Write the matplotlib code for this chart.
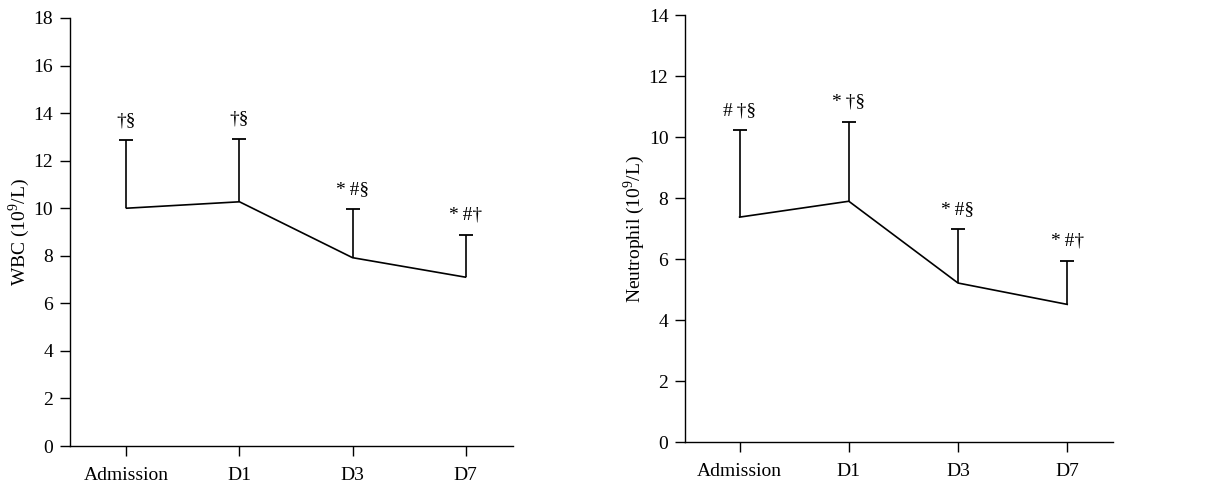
#!/usr/bin/env python3
"""
WBC and neutrophil counts over time (mean with upper SD bar).
"""

import matplotlib
matplotlib.use("Agg")
import matplotlib.pyplot as plt

plt.rcParams['font.family'] = ['Liberation Serif', 'DejaVu Serif']
plt.rcParams['mathtext.fontset'] = 'custom'
plt.rcParams['mathtext.rm'] = 'Liberation Serif'

days = ['Admission', 'D1', 'D3', 'D7']

# WBC (10^9/L)
wbc_mean = [10.0, 10.27, 7.92, 7.1]
wbc_sd = [2.85, 2.65, 2.05, 1.79]
wbc_marks = ['†§', '†§', '*\u2009#§', '*\u2009#†']

# Neutrophil (10^9/L)
neu_mean = [7.38, 7.9, 5.22, 4.52]
neu_sd = [2.85, 2.6, 1.76, 1.42]
neu_marks = ['#\u2009†§', '*\u2009†§', '*\u2009#§', '*\u2009#†']


def draw_panel(ax, mean, sd, marks, ymax, ylabel):
    x = list(range(len(days)))
    top = [m + s for m, s in zip(mean, sd)]
    ax.plot(x, mean, color='black', lw=1.2)
    # upper half of the SD bar only, with a cap at the top
    ax.vlines(x, mean, top, color='black', lw=1.2)
    ax.plot(x, top, ls='none', marker='_', markersize=10,
            markeredgewidth=1.3, color='black')
    for xi, t, lab in zip(x, top, marks):
        ax.annotate(lab, (xi, t), xytext=(0, 8), textcoords='offset points',
                    ha='center', va='bottom', fontsize=14)
    ax.set_xlim(-0.5, 3.42)
    ax.set_ylim(0, ymax)
    ax.set_yticks(range(0, ymax + 1, 2))
    ax.set_xticks(x)
    ax.set_xticklabels(days)
    ax.set_ylabel(ylabel, fontsize=14, labelpad=1)
    ax.spines['top'].set_visible(False)
    ax.spines['right'].set_visible(False)
    for sp in ('left', 'bottom'):
        ax.spines[sp].set_linewidth(1.0)
    ax.tick_params(direction='out', length=7, width=1.0, labelsize=14)
    ax.tick_params(axis='x', pad=8)
    ax.tick_params(axis='y', pad=5)


fig = plt.figure(figsize=(12.15, 4.86), dpi=100)
ax1 = fig.add_axes([0.0576, 0.0823, 0.3646, 0.8807])
ax2 = fig.add_axes([0.5638, 0.0899, 0.3523, 0.879])

draw_panel(ax1, wbc_mean, wbc_sd, wbc_marks, 18, 'WBC (10$^9$/L)')
draw_panel(ax2, neu_mean, neu_sd, neu_marks, 14, 'Neutrophil (10$^9$/L)')

fig.savefig('out.png', dpi=100)
